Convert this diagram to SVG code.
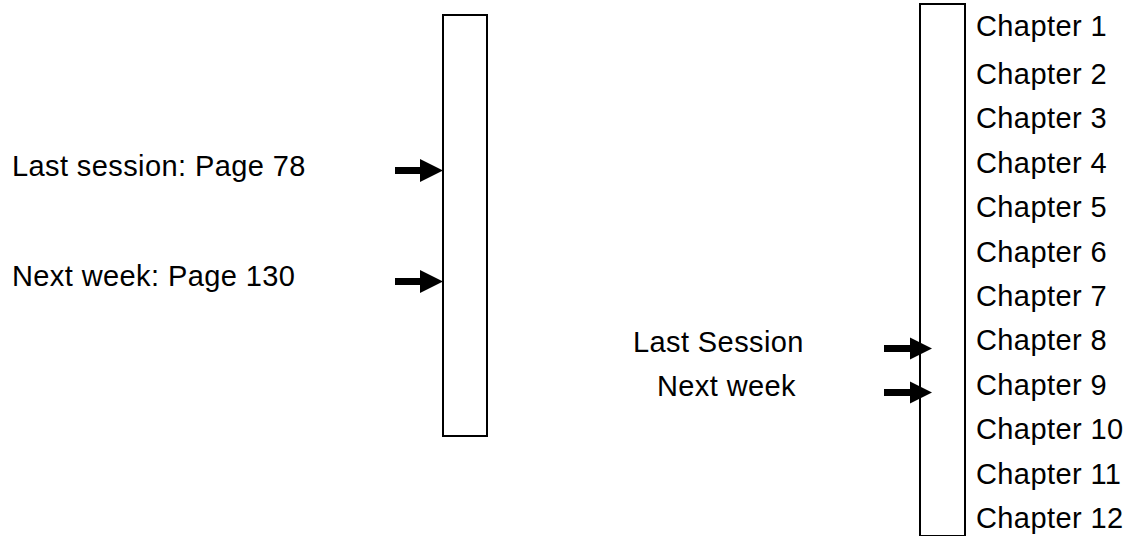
<svg xmlns="http://www.w3.org/2000/svg" width="1130" height="536" viewBox="0 0 1130 536">
<style>
.t{font-family:"Liberation Sans",Arial,Helvetica,sans-serif;font-size:29px;letter-spacing:0.4px;fill:#000}
.box{fill:#fff;stroke:#000;stroke-width:2}
.shaft{stroke:#000;stroke-width:7;fill:none}
.head{fill:#000}
</style>
<rect width="1130" height="536" fill="#fff"/>
<g id="book-pages">
<rect class="box" x="443" y="15" width="44" height="421"/>
</g>
<g id="book-chapters">
<rect class="box" x="920" y="4" width="45" height="532"/>
</g>
<g id="label-last-session-page">
<text class="t" x="12" y="176">Last session: Page 78</text>
</g>
<g id="label-next-week-page">
<text class="t" x="12" y="286">Next week: Page 130</text>
</g>
<g id="label-last-session">
<text class="t" x="633" y="352">Last Session</text>
</g>
<g id="label-next-week">
<text class="t" x="657" y="396">Next week</text>
</g>
<g id="chapters">
<text class="t" x="976" y="35.7">Chapter 1</text>
<text class="t" x="976" y="84">Chapter 2</text>
<text class="t" x="976" y="128.4">Chapter 3</text>
<text class="t" x="976" y="172.8">Chapter 4</text>
<text class="t" x="976" y="217.2">Chapter 5</text>
<text class="t" x="976" y="261.6">Chapter 6</text>
<text class="t" x="976" y="306">Chapter 7</text>
<text class="t" x="976" y="350.4">Chapter 8</text>
<text class="t" x="976" y="394.8">Chapter 9</text>
<text class="t" x="976" y="439.2">Chapter 10</text>
<text class="t" x="976" y="483.6">Chapter 11</text>
<text class="t" x="976" y="528">Chapter 12</text>
</g>
<g id="connectors">
<line class="shaft" x1="395" y1="170.5" x2="422" y2="170.5"/>
<polygon class="head" points="420,159 443,170.5 420,182"/>
<line class="shaft" x1="395" y1="281.5" x2="422" y2="281.5"/>
<polygon class="head" points="420,270 443,281.5 420,293"/>
<line class="shaft" x1="884" y1="348.5" x2="912" y2="348.5"/>
<polygon class="head" points="910,337.5 932,348.5 910,359.5"/>
<line class="shaft" x1="884" y1="392.5" x2="912" y2="392.5"/>
<polygon class="head" points="910,381.5 932,392.5 910,403.5"/>
</g>
</svg>
